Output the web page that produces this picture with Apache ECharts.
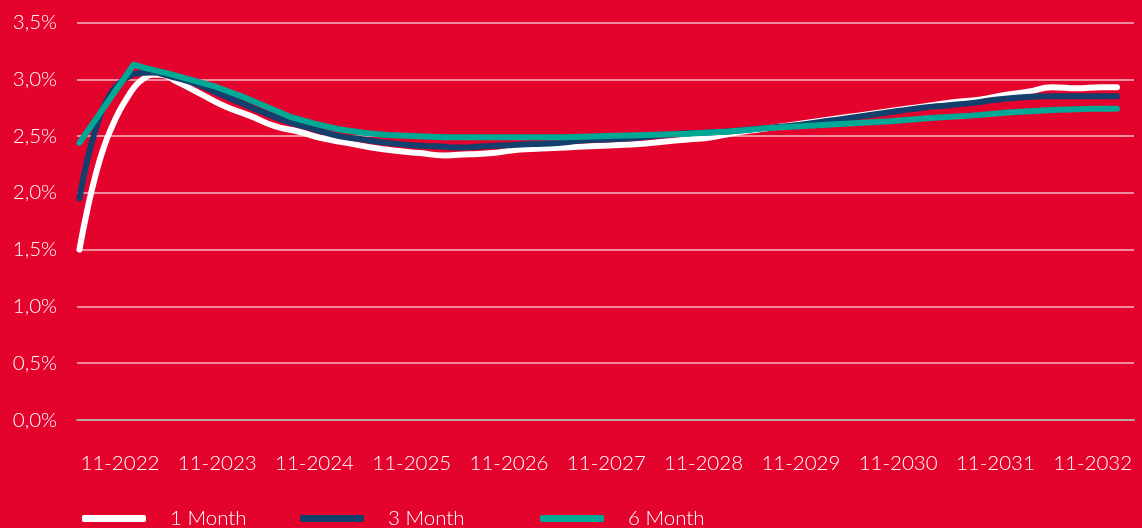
<!DOCTYPE html>
<html>
<head>
<meta charset="utf-8">
<title>Rates</title>
<script src="https://cdn.jsdelivr.net/npm/echarts@6/dist/echarts.min.js"></script>
<style>
  html, body { margin: 0; padding: 0; background: #e4032c; }
  #chart { width: 1142px; height: 528px; }
</style>
</head>
<body>
<div id="chart"></div>
<script>
// x = months after 11-2022 (0 = 11-2022)
var xTicks = [0, 12, 24, 36, 48, 60, 72, 84, 96, 108, 120]
var xTickLabels = ['11-2022', '11-2023', '11-2024', '11-2025', '11-2026', '11-2027', '11-2028', '11-2029', '11-2030', '11-2031', '11-2032']
var seriesNames = ['1 Month', '3 Month', '6 Month']

var oneMonth = [
  [-5, 1.50], [-4, 1.86], [-3, 2.16], [-2, 2.40], [-1, 2.58], [0, 2.73], [1, 2.85], [2, 2.95], [3, 3.01], [4, 3.04],
  [5, 3.04], [7, 2.98], [10, 2.87], [13, 2.76], [16, 2.68], [19, 2.59], [22, 2.54], [25, 2.48], [28, 2.44], [31, 2.40],
  [34, 2.37], [37, 2.35], [40, 2.33], [43, 2.34], [46, 2.35], [49, 2.38], [52, 2.39], [55, 2.40], [58, 2.41], [61, 2.42],
  [64, 2.43], [67, 2.45], [70, 2.47], [73, 2.49], [76, 2.53], [79, 2.56], [82, 2.59], [85, 2.62], [88, 2.65], [91, 2.68],
  [94, 2.71], [97, 2.74], [100, 2.77], [103, 2.80], [106, 2.82], [109, 2.86], [112, 2.89], [115, 2.93], [118, 2.92],
  [121, 2.93], [123, 2.93]
]
var threeMonth = [
  [-5, 1.95], [-4, 2.30], [-3, 2.56], [-2, 2.76], [-1, 2.89], [0, 2.97], [1, 3.02], [2, 3.05], [4, 3.06], [6, 3.03],
  [9, 2.97], [12, 2.88], [15, 2.79], [18, 2.70], [21, 2.62], [24, 2.56], [27, 2.50], [30, 2.47], [33, 2.44], [36, 2.42],
  [39, 2.41], [42, 2.40], [45, 2.41], [48, 2.42], [51, 2.43], [54, 2.44], [57, 2.46], [60, 2.47], [63, 2.48], [66, 2.50],
  [69, 2.52], [72, 2.53], [75, 2.54], [78, 2.56], [81, 2.58], [84, 2.60], [87, 2.63], [90, 2.66], [93, 2.69], [96, 2.72],
  [99, 2.75], [102, 2.77], [105, 2.79], [108, 2.82], [111, 2.84], [114, 2.85], [117, 2.85], [120, 2.85], [123, 2.85]
]
var sixMonth = [
  [-5, 2.44], [1.7, 3.13], [3, 3.10], [6, 3.05], [9, 2.99], [12, 2.93], [15, 2.85], [18, 2.76], [21, 2.67], [24, 2.61],
  [27, 2.56], [30, 2.53], [33, 2.51], [36, 2.50], [40, 2.49], [45, 2.49], [50, 2.49], [55, 2.49], [60, 2.50], [65, 2.51],
  [70, 2.52], [75, 2.54], [80, 2.57], [85, 2.59], [90, 2.61], [95, 2.63], [100, 2.66], [105, 2.68], [110, 2.71],
  [115, 2.73], [120, 2.74], [123, 2.74]
]

var colors = ['#ffffff', '#123f6b', '#00a896']
var font = 'Lato, "Open Sans", sans-serif'

var chart = echarts.init(document.getElementById('chart'))

function legendAt(name, left) {
  return {
    data: [name],
    left: left,
    top: 508,
    padding: 0,
    icon: 'roundRect',
    itemWidth: 64,
    itemHeight: 7,
    itemGap: 0,
    textStyle: { color: '#fff', fontSize: 20.5, fontFamily: font, fontWeight: 300, padding: [2, 0, 0, 19] }
  }
}

function lineSeries(name, data, color, smooth) {
  return {
    name: name,
    type: 'line',
    data: data,
    smooth: smooth,
    showSymbol: false,
    symbol: 'none',
    lineStyle: { color: color, width: 6, cap: 'round', join: 'round' },
    itemStyle: { color: color }
  }
}

chart.setOption({
  backgroundColor: '#e4032c',
  animation: false,
  color: colors,
  grid: { left: 77, right: 8, top: 22.5, bottom: 108 },
  legend: [
    legendAt(seriesNames[0], 82),
    legendAt(seriesNames[1], 300),
    legendAt(seriesNames[2], 540)
  ],
  xAxis: {
    type: 'value',
    min: -5.3,
    max: 125.1,
    splitLine: { show: false },
    axisTick: { show: false },
    axisLine: { show: true, lineStyle: { color: '#b9a4a8', width: 2 } },
    axisLabel: {
      customValues: xTicks,
      color: '#fff',
      fontSize: 20.5,
      fontFamily: font,
      fontWeight: 300,
      margin: 33,
      formatter: function (v) {
        return xTickLabels[xTicks.indexOf(v)] || ''
      }
    }
  },
  yAxis: {
    type: 'value',
    min: 0,
    max: 3.5,
    interval: 0.5,
    axisLine: { show: false },
    axisTick: { show: false },
    splitLine: { lineStyle: { color: 'rgba(255,255,255,0.72)', width: 1.5 } },
    axisLabel: {
      color: '#fff',
      fontSize: 20.5,
      fontFamily: font,
      fontWeight: 300,
      margin: 20,
      formatter: function (v) {
        return v.toFixed(1).replace('.', ',') + '%'
      }
    }
  },
  series: [
    lineSeries(seriesNames[0], oneMonth, colors[0], true),
    lineSeries(seriesNames[1], threeMonth, colors[1], true),
    lineSeries(seriesNames[2], sixMonth, colors[2], false)
  ]
})
</script>
</body>
</html>
